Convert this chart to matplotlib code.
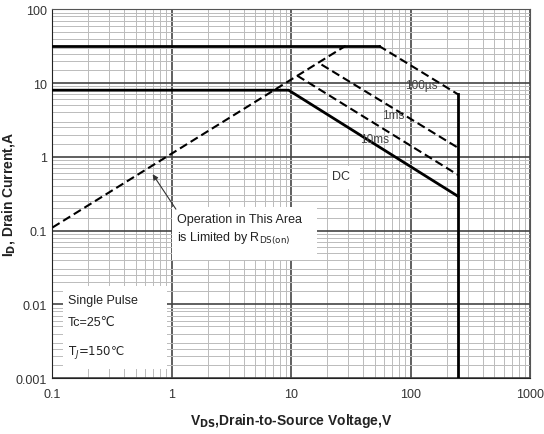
import matplotlib
matplotlib.use("Agg")
import matplotlib.pyplot as plt
from matplotlib.patches import Rectangle
from matplotlib.ticker import FixedLocator, FixedFormatter, LogLocator, NullFormatter

plt.rcParams['font.family'] = ['Liberation Sans', 'DejaVu Sans']

# curve data (V, A)
rds_v = [0.1, 28.5]
rds_i = [0.11, 32]
pulse_v = [0.1, 54]
pulse_i = [32, 32]
us100_v = [54, 250]
us100_i = [32, 7]
ms1_v = [17.9, 250]
ms1_i = [17.8, 1.32]
ms10_v = [11.2, 250]
ms10_i = [12.6, 0.565]
dc_v = [0.1, 9.5, 250]
dc_i = [8, 8, 0.29]
bv_v = [250, 250]
bv_i = [7, 0.001]

xticks = [0.1, 1, 10, 100, 1000]
xlabels = ['0.1', '1', '10', '100', '1000']
yticks = [0.001, 0.01, 0.1, 1, 10, 100]
ylabels = ['0.001', '0.01', '0.1', '1', '10', '100']

fig = plt.figure(figsize=(5.44, 4.35), dpi=100)
ax = fig.add_axes([0.0965, 0.1287, 0.878, 0.8476])
ax.set_xscale('log')
ax.set_yscale('log')
ax.set_xlim(0.1, 1000)
ax.set_ylim(0.001, 100)

ax.xaxis.set_major_locator(FixedLocator(xticks))
ax.xaxis.set_major_formatter(FixedFormatter(xlabels))
ax.yaxis.set_major_locator(FixedLocator(yticks))
ax.yaxis.set_major_formatter(FixedFormatter(ylabels))
ax.xaxis.set_minor_locator(LogLocator(base=10, subs=range(2, 10), numticks=20))
ax.yaxis.set_minor_locator(LogLocator(base=10, subs=[1.5, 2, 2.5, 3, 4, 5, 6, 7, 8, 9], numticks=20))
ax.xaxis.set_minor_formatter(NullFormatter())
ax.yaxis.set_minor_formatter(NullFormatter())
ax.tick_params(which='both', length=0, labelsize=9, colors='#333333')
ax.tick_params(axis='x', pad=7)
ax.tick_params(axis='y', pad=4)

ax.grid(which='major', color='#444444', linewidth=1.2, zorder=0)
ax.grid(which='minor', color='#bbbbbb', linewidth=0.7, zorder=0)
ax.set_axisbelow(True)
for s in ax.spines.values():
    s.set_color('#555555')
ax.spines['left'].set_color('#222222')
ax.spines['bottom'].set_color('#222222')

# white patches behind the notes
ax.add_patch(Rectangle((0.1224, 0.00132), 0.908 - 0.1224, 0.0176 - 0.00132,
                       facecolor='white', edgecolor='none', zorder=1))
ax.add_patch(Rectangle((1.0, 0.04), 16.3 - 1.0, 0.21 - 0.04,
                       facecolor='white', edgecolor='none', zorder=1))
ax.add_patch(Rectangle((20.2, 0.365), 37.4 - 20.2, 0.748 - 0.365,
                       facecolor='white', edgecolor='none', zorder=1))

ax.plot(rds_v, rds_i, color='black', lw=1.5, ls=(0, (4, 2)), zorder=4)
ax.plot(pulse_v, pulse_i, color='black', lw=2, zorder=4)
ax.plot(us100_v, us100_i, color='black', lw=1.5, ls=(0, (4, 2)), zorder=4)
ax.plot(ms1_v, ms1_i, color='black', lw=1.5, ls=(0, (4, 2)), zorder=4)
ax.plot(ms10_v, ms10_i, color='black', lw=1.5, ls=(0, (4, 2)), zorder=4)
ax.plot(dc_v, dc_i, color='black', lw=2, zorder=4)
ax.plot(bv_v, bv_i, color='black', lw=2, zorder=4)

ax.text(89, 9.5, '100µs', fontsize=8.5, color='#444444', va='center', zorder=5)
ax.text(58, 3.68, '1ms', fontsize=8.5, color='#444444', va='center', zorder=5)
ax.text(37.4, 1.74, '10ms', fontsize=8.5, color='#444444', va='center', zorder=5)
ax.text(22, 0.547, 'DC', fontsize=9, color='#333333', va='center', zorder=5)

ax.text(1.10, 0.103, 'Operation in This Area\nis Limited by R$_{\\mathrm{DS(on)}}$',
        fontsize=9, color='#222222', linespacing=1.5, va='center', zorder=5)
ax.annotate('', xy=(0.69, 0.58), xytext=(1.08, 0.195),
            arrowprops=dict(arrowstyle='-|>', color='#333333', lw=0.8,
                            shrinkA=0, shrinkB=0, mutation_scale=8), zorder=5)

ax.text(0.135, 0.01138, 'Single Pulse', fontsize=9, color='#222222', va='center', zorder=5)
ax.text(0.135, 0.00573, 'Tc=25℃', fontsize=9, color='#222222', va='center', zorder=5)
# the whole line in DejaVu Sans so that ℃ renders next to the subscript
ax.text(0.135, 0.00231, 'T$_J$=150℃', fontsize=8.5, color='#222222',
        va='center', zorder=5, family='DejaVu Sans')

ax.set_xlabel('V$_{\\mathbf{DS}}$,Drain-to-Source Voltage,V', fontsize=10,
              fontweight='bold', color='#222222', labelpad=8)
ax.set_ylabel('I$_{\\mathbf{D}}$, Drain Current,A', fontsize=10,
              fontweight='bold', color='#222222')
ax.yaxis.set_label_coords(-0.075, 0.5)

fig.savefig('out.png', dpi=100)
